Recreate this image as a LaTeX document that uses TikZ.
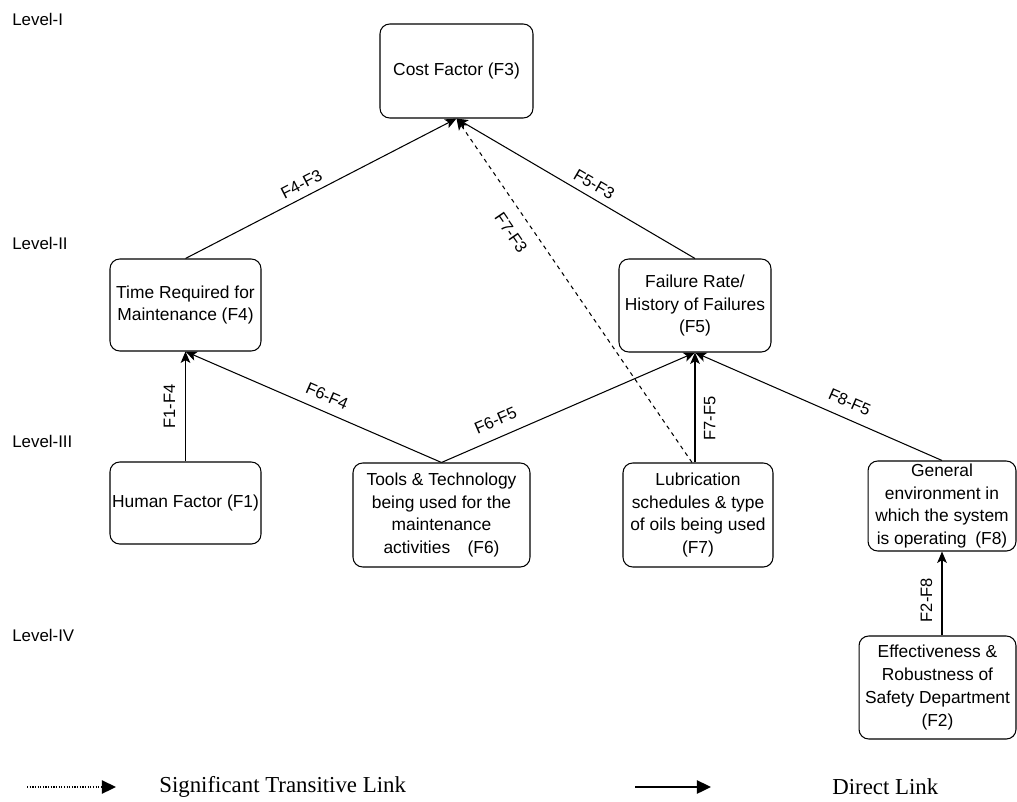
\documentclass[tikz,border=0pt]{standalone}
\usepackage{fontspec}
\setmainfont{Liberation Serif}
\setsansfont{Liberation Sans}
\usetikzlibrary{arrows.meta}
\begin{document}
\begin{tikzpicture}[x=0.02cm,y=-0.02cm,
  box/.style={draw, rounded corners=5.5pt, line width=0.6pt, align=center,
    font=\sffamily\fontsize{9.9}{13}\selectfont, inner sep=1pt},
  lvl/.style={anchor=west, font=\sffamily\fontsize{9.6}{11}\selectfont, inner sep=0pt},
  elab/.style={sloped, font=\sffamily\fontsize{9.4}{11}\selectfont, inner sep=1pt},
  link/.style={line width=0.6pt, -{Stealth[length=6.5pt,width=5.5pt,inset=1.6pt]}},
  trans/.style={link, dash pattern=on 2.3pt off 2.3pt},
  legtext/.style={anchor=west, font=\fontsize{13}{15}\selectfont, inner sep=0pt}]
\useasboundingbox (0,0) rectangle (1017,801);

% level labels
\node[lvl] (L1) at (12,19) {Level-I};
\node[lvl] (L2) at (12,243) {Level-II};
\node[lvl] (L3) at (12,441) {Level-III};
\node[lvl] (L4) at (12,635) {Level-IV};

% factor boxes
\node[box, minimum width=3.06cm, minimum height=1.88cm] (F3) at (456.5,71) {Cost Factor (F3)};
\node[box, minimum width=3.02cm, minimum height=1.84cm] (F4) at (185.5,305) {Time Required for\\Maintenance (F4)};
\node[box, minimum width=3.04cm, minimum height=1.86cm] (F5) at (695,305.5) {Failure Rate/\\History of Failures\\(F5)};
\node[box, minimum width=3.02cm, minimum height=1.64cm] (F1) at (185.5,503) {Human Factor (F1)};
\node[box, minimum width=3.54cm, minimum height=2.08cm] (F6) at (441.5,515) {Tools \& Technology\\being used for the\\maintenance\\activities\quad(F6)};
\node[box, minimum width=3.00cm, minimum height=2.08cm] (F7) at (698,515) {Lubrication\\schedules \& type\\of oils being used\\(F7)};
\node[box, minimum width=2.96cm, minimum height=1.80cm] (F8) at (942,506) {General\\environment in\\which the system\\is operating\enspace(F8)};
\node[box, minimum width=3.14cm, minimum height=2.06cm] (F2) at (937.5,687.5) {Effectiveness \&\\Robustness of\\Safety Department\\(F2)};

% links
\draw[link] (F4.north) -- node[elab, pos=0.45, above=2.8pt] {F4-F3} (F3.south);
\draw[link] (F5.north) -- node[elab, pos=0.45, above=2.8pt] {F5-F3} (F3.south);
\draw[trans] ([xshift=-0.12cm]F7.north) -- node[elab, pos=0.70, below=6.5pt] {F7-F3} (F3.south);
\draw[link] (F1.north) -- node[elab, pos=0.5, above=4.6pt] {F1-F4} (F4.south);
\draw[link] (F6.north) -- node[elab, pos=0.47, above=4pt] {F6-F4} (F4.south);
\draw[link] (F6.north) -- node[elab, pos=0.24, above=5pt] {F6-F5} (F5.south);
\draw[link] (F7.north -| F5.south) -- node[elab, pos=0.4, below=3.8pt] {F7-F5} (F5.south);
\draw[link] (F8.north) -- node[elab, pos=0.4, above=4.6pt] {F8-F5} (F5.south);
\draw[link] (F2.north -| F8.south) -- node[elab, pos=0.42, above=4.3pt] {F2-F8} (F8.south);

% legend
\coordinate (t1) at (27,787);
\coordinate (t2) at (116,787);
\coordinate (d1) at (635,787);
\coordinate (d2) at (711,787);
\draw[line width=1pt, dash pattern=on 0.7pt off 0.8pt, -{Triangle[length=8pt,width=7.5pt]}] (t1) -- (t2);
\draw[line width=1.1pt, -{Triangle[length=8pt,width=7.5pt]}] (d1) -- (d2);
\node[legtext] (tl) at (159,787) {Significant Transitive Link};
\node[legtext] (dl) at (832,787) {Direct Link};
\end{tikzpicture}
\end{document}
